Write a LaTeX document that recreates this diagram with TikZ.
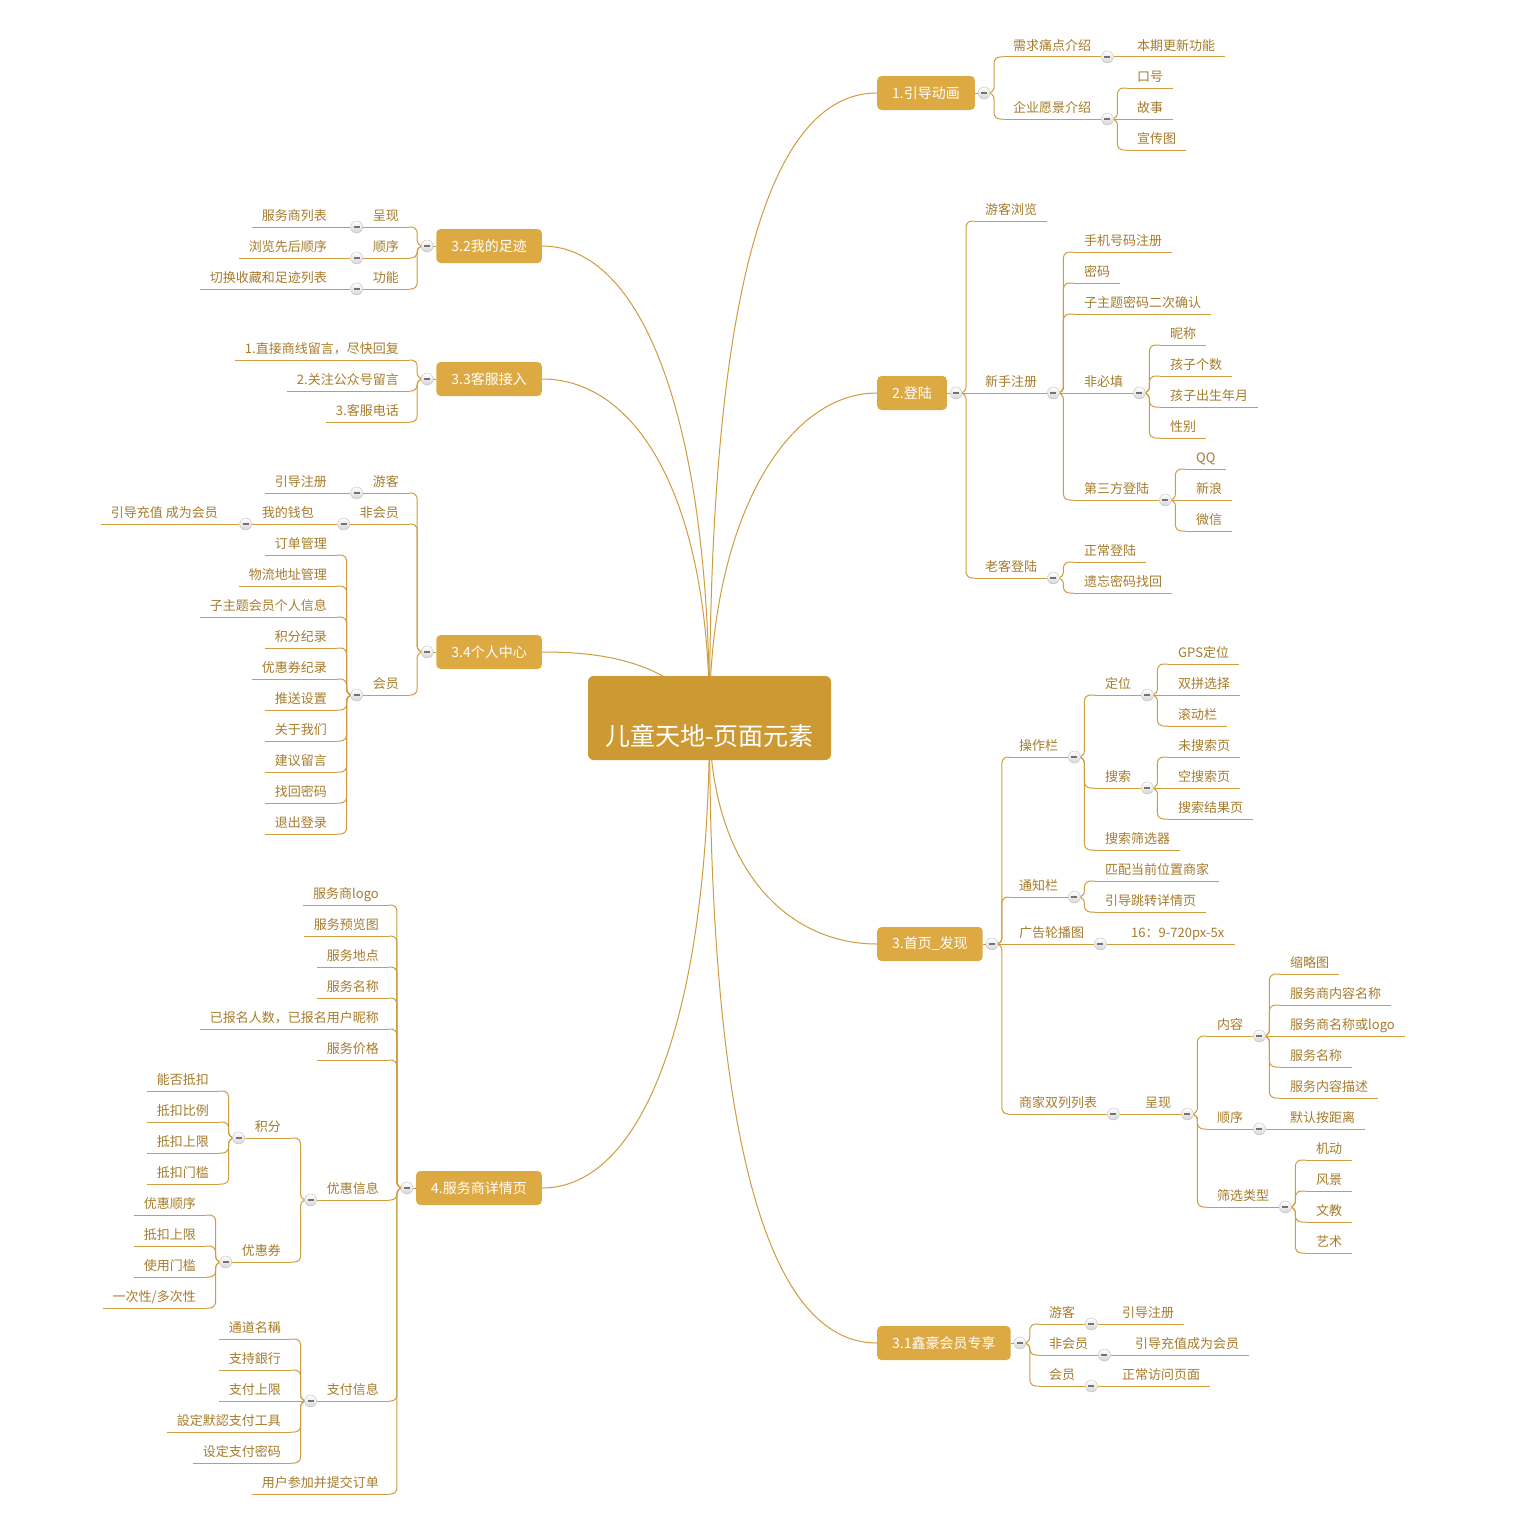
\documentclass[tikz,border=0pt]{standalone}
\usepackage{fontspec}
\setmainfont{Noto Sans CJK SC}
\usetikzlibrary{backgrounds}
\definecolor{rootc}{HTML}{CC9933}
\definecolor{mainc}{HTML}{DDA943}
\definecolor{ink}{HTML}{A67C2C}
\definecolor{wirec}{HTML}{CF9C3F}
\tikzset{rootbox/.style={fill=rootc,rounded corners=2mm,text=white,font=\fontsize{25}{30}\selectfont,minimum width=243pt,minimum height=84pt,text height=58pt,text depth=3pt,inner sep=0pt},
mainbox/.style={fill=mainc,rounded corners=1.5mm,text=white,font=\fontsize{14}{17}\selectfont,minimum height=34pt,inner xsep=15pt},
wire/.style={draw=wirec,line width=1pt},conn/.style={wire,rounded corners=6pt},
rt/.style={anchor=south west,text=ink,font=\fontsize{13}{16}\selectfont,inner xsep=10pt,inner ysep=4pt,text height=10pt,text depth=2pt,append after command={(\tikzlastnode.south west) edge[wire] (\tikzlastnode.south east)}},
lt/.style={rt,anchor=south east},
btn/.style={circle,draw=black!25,top color=white,bottom color=black!16,minimum size=12pt,inner sep=0pt,path picture={\draw[black!55,line width=1.8pt] ([xshift=-3pt]path picture bounding box.center)--([xshift=3pt]path picture bounding box.center);}}}
\begin{document}
\begin{tikzpicture}[x=1pt,y=1pt]
\begin{scope}[on background layer]\fill[white] (0,0) rectangle (1524,-1528);\end{scope}
\useasboundingbox (0,0) rectangle (1524,-1528);
\node[rootbox] (r) at (709.5,-718) {儿童天地-页面元素};
% main topics
\node[mainbox,anchor=west] (m1) at (877,-93) {1.引导动画};
\node[mainbox,anchor=west] (m2) at (877,-393) {2.登陆};
\node[mainbox,anchor=west] (m3) at (877,-944) {3.首页\_发现};
\node[mainbox,anchor=west] (m4) at (877,-1343) {3.1鑫豪会员专享};
\node[mainbox,anchor=east] (m5) at (542,-246) {3.2我的足迹};
\node[mainbox,anchor=east] (m6) at (542,-379) {3.3客服接入};
\node[mainbox,anchor=east] (m7) at (542,-652) {3.4个人中心};
\node[mainbox,anchor=east] (m8) at (542,-1188) {4.服务商详情页};
\foreach \m in {m1,m2,m3,m4} \node[btn] (\m b) at ([xshift=9pt]\m.east) {};
\foreach \m in {m5,m6,m7,m8} \node[btn] (\m b) at ([xshift=-9pt]\m.west) {};
\foreach \m in {m1,m2,m3,m4} \draw[wire] (\m.east)--(\m b);
\foreach \m in {m5,m6,m7,m8} \draw[wire] (\m.west)--(\m b);
% 1.引导动画
\node[rt] (a1) at (1003,-57) {需求痛点介绍};\node[btn] (a1b) at ([xshift=6pt]a1.south east) {};
\node[rt] (a11) at (1127,-57) {本期更新功能};
\node[rt] (a2) at (1003,-119) {企业愿景介绍};\node[btn] (a2b) at ([xshift=6pt]a2.south east) {};
\node[rt] (a21) at (1127,-88) {口号};
\node[rt] (a22) at (1127,-119) {故事};
\node[rt] (a23) at (1127,-150) {宣传图};
% 2.登陆
\node[rt] (c1) at (975,-221) {游客浏览};
\node[rt] (c2) at (975,-393) {新手注册};\node[btn] (c2b) at ([xshift=6pt]c2.south east) {};
\node[rt] (c21) at (1074,-252) {手机号码注册};
\node[rt] (c22) at (1074,-283) {密码};
\node[rt] (c23) at (1074,-314) {子主题密码二次确认};
\node[rt] (c24) at (1074,-393) {非必填};\node[btn] (c24b) at ([xshift=6pt]c24.south east) {};
\node[rt] (c241) at (1160,-345) {昵称};
\node[rt] (c242) at (1160,-376) {孩子个数};
\node[rt] (c243) at (1160,-407) {孩子出生年月};
\node[rt] (c244) at (1160,-438) {性别};
\node[rt] (c25) at (1074,-500) {第三方登陆};\node[btn] (c25b) at ([xshift=6pt]c25.south east) {};
\node[rt] (c251) at (1186,-469) {QQ};
\node[rt] (c252) at (1186,-500) {新浪};
\node[rt] (c253) at (1186,-531) {微信};
\node[rt] (c3) at (975,-578) {老客登陆};\node[btn] (c3b) at ([xshift=6pt]c3.south east) {};
\node[rt] (c31) at (1074,-562) {正常登陆};
\node[rt] (c32) at (1074,-593) {遗忘密码找回};
% 3.首页_发现
\node[rt] (d1) at (1009,-757) {操作栏};\node[btn] (d1b) at ([xshift=6pt]d1.south east) {};
\node[rt] (d11) at (1095,-695) {定位};\node[btn] (d11b) at ([xshift=6pt]d11.south east) {};
\node[rt] (d111) at (1168,-664) {GPS定位};
\node[rt] (d112) at (1168,-695) {双拼选择};
\node[rt] (d113) at (1168,-726) {滚动栏};
\node[rt] (d12) at (1095,-788) {搜索};\node[btn] (d12b) at ([xshift=6pt]d12.south east) {};
\node[rt] (d121) at (1168,-757) {未搜索页};
\node[rt] (d122) at (1168,-788) {空搜索页};
\node[rt] (d123) at (1168,-819) {搜索结果页};
\node[rt] (d13) at (1095,-850) {搜索筛选器};
\node[rt] (d2) at (1009,-897) {通知栏};\node[btn] (d2b) at ([xshift=6pt]d2.south east) {};
\node[rt] (d21) at (1095,-881) {匹配当前位置商家};
\node[rt] (d22) at (1095,-912) {引导跳转详情页};
\node[rt] (d3) at (1009,-944) {广告轮播图};\node[btn] (d3b) at ([xshift=6pt]d3.south east) {};
\node[rt] (d31) at (1121,-944) {16：9-720px-5x};
\node[rt] (d4) at (1009,-1114) {商家双列列表};\node[btn] (d4b) at ([xshift=6pt]d4.south east) {};
\node[rt] (d41) at (1135,-1114) {呈现};\node[btn] (d41b) at ([xshift=6pt]d41.south east) {};
\node[rt] (d411) at (1207,-1036) {内容};\node[btn] (d411b) at ([xshift=6pt]d411.south east) {};
\node[rt] (d4111) at (1280,-974) {缩略图};
\node[rt] (d4112) at (1280,-1005) {服务商内容名称};
\node[rt] (d4113) at (1280,-1036) {服务商名称或logo};
\node[rt] (d4114) at (1280,-1067) {服务名称};
\node[rt] (d4115) at (1280,-1098) {服务内容描述};
\node[rt] (d412) at (1207,-1129) {顺序};\node[btn] (d412b) at ([xshift=6pt]d412.south east) {};
\node[rt] (d4121) at (1280,-1129) {默认按距离};
\node[rt] (d413) at (1207,-1207) {筛选类型};\node[btn] (d413b) at ([xshift=6pt]d413.south east) {};
\node[rt] (d4131) at (1306,-1160) {机动};
\node[rt] (d4132) at (1306,-1191) {风景};
\node[rt] (d4133) at (1306,-1222) {文教};
\node[rt] (d4134) at (1306,-1253) {艺术};
% 3.1鑫豪会员专享
\node[rt] (e1) at (1039,-1324) {游客};\node[btn] (e1b) at ([xshift=6pt]e1.south east) {};
\node[rt] (e11) at (1112,-1324) {引导注册};
\node[rt] (e2) at (1039,-1355) {非会员};\node[btn] (e2b) at ([xshift=6pt]e2.south east) {};
\node[rt] (e21) at (1125,-1355) {引导充值成为会员};
\node[rt] (e3) at (1039,-1386) {会员};\node[btn] (e3b) at ([xshift=6pt]e3.south east) {};
\node[rt] (e31) at (1112,-1386) {正常访问页面};
% 3.2我的足迹
\node[lt] (f1) at (409,-227) {呈现};\node[btn] (f1b) at ([xshift=-6pt]f1.south west) {};
\node[lt] (f11) at (337,-227) {服务商列表};
\node[lt] (f2) at (409,-258) {顺序};\node[btn] (f2b) at ([xshift=-6pt]f2.south west) {};
\node[lt] (f21) at (337,-258) {浏览先后顺序};
\node[lt] (f3) at (409,-289) {功能};\node[btn] (f3b) at ([xshift=-6pt]f3.south west) {};
\node[lt] (f31) at (337,-289) {切换收藏和足迹列表};
% 3.3客服接入
\node[lt] (g1) at (409,-360) {1.直接商线留言，尽快回复};
\node[lt] (g2) at (409,-391) {2.关注公众号留言};
\node[lt] (g3) at (409,-422) {3.客服电话};
% 3.4个人中心
\node[lt] (h1) at (409,-493) {游客};\node[btn] (h1b) at ([xshift=-6pt]h1.south west) {};
\node[lt] (h11) at (337,-493) {引导注册};
\node[lt] (h2) at (409,-524) {非会员};\node[btn] (h2b) at ([xshift=-6pt]h2.south west) {};
\node[lt] (h21) at (324,-524) {我的钱包};\node[btn] (h21b) at ([xshift=-6pt]h21.south west) {};
\node[lt] (h211) at (228,-524) {引导充值 成为会员};
\node[lt] (h3) at (409,-695) {会员};\node[btn] (h3b) at ([xshift=-6pt]h3.south west) {};
\foreach \t [count=\i] in {订单管理,物流地址管理,子主题会员个人信息,积分纪录,优惠券纪录,推送设置,关于我们,建议留言,找回密码,退出登录}
  \node[lt] (h3\i) at (337,-524-31*\i) {\t};
% 4.服务商详情页
\foreach \t [count=\i] in {服务商logo,服务预览图,服务地点,服务名称,已报名人数，已报名用户昵称,服务价格}
  \node[lt] (i\i) at (389,-874-31*\i) {\t};
\node[lt] (i7) at (389,-1200) {优惠信息};\node[btn] (i7b) at ([xshift=-6pt]i7.south west) {};
\node[lt] (i71) at (291,-1138) {积分};\node[btn] (i71b) at ([xshift=-6pt]i71.south west) {};
\node[lt] (i711) at (219,-1091) {能否抵扣};
\node[lt] (i712) at (219,-1122) {抵扣比例};
\node[lt] (i713) at (219,-1153) {抵扣上限};
\node[lt] (i714) at (219,-1184) {抵扣门槛};
\node[lt] (i72) at (291,-1262) {优惠券};\node[btn] (i72b) at ([xshift=-6pt]i72.south west) {};
\node[lt] (i721) at (206,-1215) {优惠顺序};
\node[lt] (i722) at (206,-1246) {抵扣上限};
\node[lt] (i723) at (206,-1277) {使用门槛};
\node[lt] (i724) at (206,-1308) {一次性/多次性};
\node[lt] (i8) at (389,-1401) {支付信息};\node[btn] (i8b) at ([xshift=-6pt]i8.south west) {};
\node[lt] (i81) at (291,-1339) {通道名稱};
\node[lt] (i82) at (291,-1370) {支持銀行};
\node[lt] (i83) at (291,-1401) {支付上限};
\node[lt] (i84) at (291,-1432) {設定默認支付工具};
\node[lt] (i85) at (291,-1463) {设定支付密码};
\node[lt] (i9) at (389,-1494) {用户参加并提交订单};
% connectors
\begin{scope}[on background layer]
\draw[wire] (r.center) to[out=90,in=180,out distance=420pt,in distance=110pt] (m1.west);
\draw[wire] (r.center) to[out=90,in=180,out distance=200pt,in distance=90pt] (m2.west);
\draw[wire] (r.center) to[out=-90,in=180,out distance=150pt,in distance=90pt] (m3.west);
\draw[wire] (r.center) to[out=-90,in=180,out distance=420pt,in distance=110pt] (m4.west);
\draw[wire] (r.center) to[out=90,in=0,out distance=300pt,in distance=100pt] (m5.east);
\draw[wire] (r.center) to[out=90,in=0,out distance=220pt,in distance=95pt] (m6.east);
\draw[wire] (r.center) to[out=125,in=0,out distance=70pt,in distance=60pt] (m7.east);
\draw[wire] (r.center) to[out=-90,in=0,out distance=300pt,in distance=100pt] (m8.east);
\foreach \p/\c in {m1b/a1,m1b/a2,a2b/a21,a2b/a23,m2b/c1,m2b/c3,c2b/c21,c2b/c22,c2b/c23,c2b/c25,c24b/c241,c24b/c242,c24b/c243,c24b/c244,c25b/c251,c25b/c253,c3b/c31,c3b/c32,m3b/d1,m3b/d2,m3b/d4,d1b/d11,d1b/d12,d1b/d13,d11b/d111,d11b/d113,d12b/d121,d12b/d123,d2b/d21,d2b/d22,d41b/d411,d41b/d412,d41b/d413,d411b/d4111,d411b/d4112,d411b/d4114,d411b/d4115,d413b/d4131,d413b/d4132,d413b/d4133,d413b/d4134,m4b/e1,m4b/e2,m4b/e3}
  \draw[conn] (\p.center) -- ++(10,0) |- (\c.south west);
\foreach \p/\c in {m5b/f1,m5b/f2,m5b/f3,m6b/g1,m6b/g2,m6b/g3,m7b/h1,m7b/h2,m7b/h3,h3b/h31,h3b/h32,h3b/h33,h3b/h34,h3b/h35,h3b/h36,h3b/h37,h3b/h38,h3b/h39,h3b/h310,m8b/i1,m8b/i2,m8b/i3,m8b/i4,m8b/i5,m8b/i6,m8b/i7,m8b/i8,m8b/i9,i7b/i71,i7b/i72,i71b/i711,i71b/i712,i71b/i713,i71b/i714,i72b/i721,i72b/i722,i72b/i723,i72b/i724,i8b/i81,i8b/i82,i8b/i84,i8b/i85}
  \draw[conn] (\p.center) -- ++(-10,0) |- (\c.south east);
\end{scope}
\foreach \p/\c in {a1b/a11,a2b/a22,m2b/c2,c2b/c24,c25b/c252,m3b/d3,d11b/d112,d12b/d122,d3b/d31,d4b/d41,d411b/d4113,d412b/d4121,e1b/e11,e2b/e21,e3b/e31}
  \draw[wire] (\p) -- (\c.south west);
\foreach \p/\c in {f1b/f11,f2b/f21,f3b/f31,h1b/h11,h2b/h21,h21b/h211,i8b/i83}
  \draw[wire] (\p) -- (\c.south east);
\end{tikzpicture}
\end{document}
